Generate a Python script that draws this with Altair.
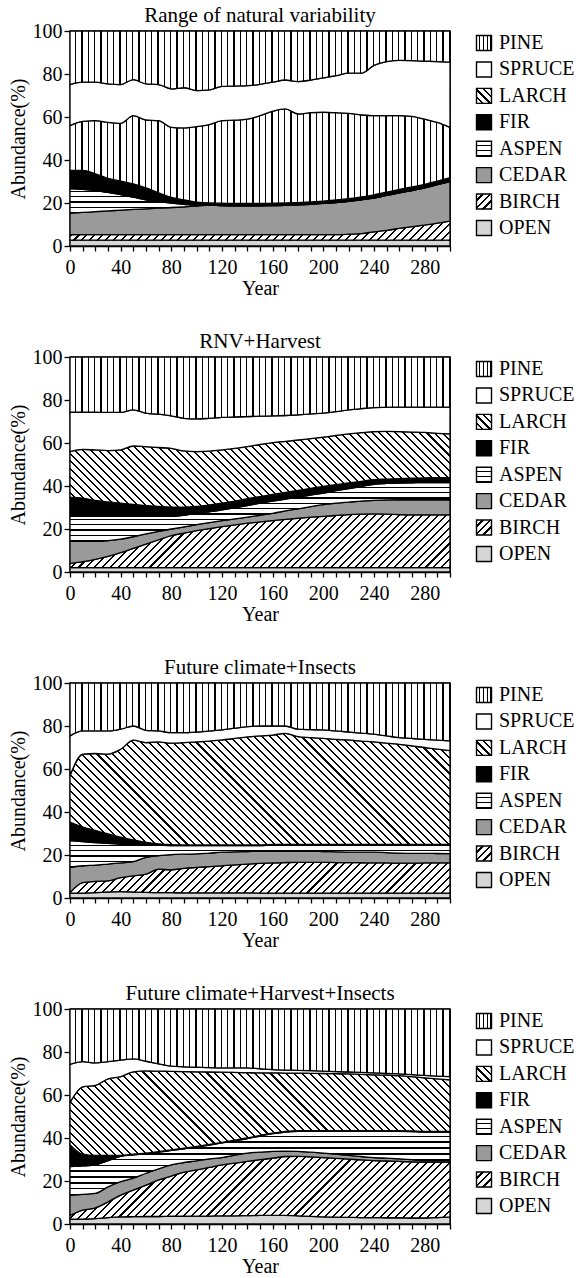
import altair as alt
import pandas as pd

# ---------------- data (upper edge of each stacked band, % abundance) ----------------
years = list(range(0, 301, 10))
species_bottom_up = ["OPEN", "BIRCH", "CEDAR", "ASPEN", "FIR", "LARCH", "SPRUCE", "PINE"]
legend_order = ["PINE", "SPRUCE", "LARCH", "FIR", "ASPEN", "CEDAR", "BIRCH", "OPEN"]
panel_titles = ["Range of natural variability", "RNV+Harvest",
                "Future climate+Insects", "Future climate+Harvest+Insects"]

# Panel 1: Range of natural variability
p1_open = [2.7, 2.7, 2.7, 2.7, 2.7, 2.7, 2.7, 2.7, 2.7, 2.7, 2.7, 2.7, 2.7, 2.7, 2.7, 2.7,
           2.7, 2.7, 2.7, 2.7, 2.7, 2.7, 2.7, 2.7, 2.7, 2.7, 2.7, 2.7, 2.7, 2.7, 2.7]
p1_birch = [5.3, 5.3, 5.3, 5.3, 5.3, 5.3, 5.3, 5.3, 5.3, 5.3, 5.3, 5.3, 5.3, 5.3, 5.3, 5.3,
            5.3, 5.3, 5.3, 5.3, 5.3, 5.3, 5.5, 5.8, 6.6, 7.3, 8.2, 9.0, 9.7, 10.6, 11.6]
p1_cedar = [15.3, 15.6, 16.0, 16.3, 16.7, 17.0, 17.3, 17.6, 17.9, 18.2, 18.6, 19.0, 18.8, 18.7,
            18.7, 18.7, 18.8, 18.9, 19.1, 19.4, 19.8, 20.2, 20.8, 21.5, 22.3, 23.5, 24.7, 25.8,
            27.0, 28.5, 29.9]
p1_aspen = [26.7, 26.3, 25.8, 24.9, 23.9, 22.7, 21.5, 20.7, 20.0, 19.4, 18.9, 19.0, 18.8, 18.7,
            18.7, 18.7, 18.8, 18.9, 19.1, 19.4, 19.8, 20.2, 20.8, 21.5, 22.3, 23.5, 24.7, 25.8,
            27.0, 28.5, 29.9]
p1_fir = [35.2, 35.2, 33.6, 31.4, 30.2, 28.9, 27.0, 24.7, 22.6, 21.5, 20.4, 20.0, 19.9, 19.8,
          19.8, 19.8, 19.9, 20.0, 20.2, 20.5, 20.9, 21.4, 22.0, 22.8, 23.8, 25.0, 26.3, 27.5,
          28.7, 30.2, 31.8]
p1_larch = [56.0, 58.0, 58.3, 57.5, 57.0, 60.6, 58.6, 58.3, 55.2, 54.9, 55.5, 56.5, 58.3, 58.5,
            59.0, 60.6, 62.7, 63.8, 61.4, 62.0, 62.2, 62.0, 61.7, 61.0, 60.6, 60.6, 60.6, 60.3,
            59.0, 57.5, 55.2]
p1_spruce = [75.1, 76.2, 76.2, 75.4, 75.1, 77.4, 75.4, 75.1, 73.1, 73.6, 72.3, 72.6, 74.2, 74.4,
             74.6, 75.2, 76.2, 77.2, 76.5, 77.2, 78.2, 79.2, 80.4, 80.4, 84.0, 85.8, 86.3, 86.2,
             86.0, 85.8, 85.5]

# Panel 2: RNV+Harvest
p2_open = [2.0, 2.0, 2.0, 2.0, 2.0, 2.0, 2.0, 2.0, 2.0, 2.0, 2.0, 2.0, 2.0, 2.0, 2.0, 2.0,
           2.0, 2.0, 2.0, 2.0, 2.0, 2.0, 2.0, 2.0, 2.0, 2.0, 2.0, 2.0, 2.0, 2.0, 2.0]
p2_birch = [3.9, 4.8, 5.9, 7.3, 9.0, 11.0, 13.0, 15.0, 16.9, 18.1, 19.2, 20.2, 21.1, 21.9, 22.7,
            23.3, 23.9, 24.5, 25.0, 25.5, 25.9, 26.3, 26.7, 26.9, 27.0, 26.9, 26.7, 26.6, 26.6,
            26.6, 26.6]
p2_cedar = [14.2, 14.2, 14.2, 14.6, 15.3, 16.4, 17.7, 18.9, 20.0, 21.0, 22.0, 23.0, 23.9, 24.7,
            25.5, 26.4, 27.3, 28.4, 29.4, 30.4, 31.3, 32.0, 32.5, 33.0, 33.3, 33.5, 33.6, 33.6,
            33.6, 33.6, 33.6]
p2_aspen = [25.9, 25.9, 25.9, 25.9, 25.9, 25.9, 25.9, 25.9, 25.9, 26.4, 27.3, 28.0, 28.9, 29.9,
            30.9, 32.0, 33.0, 33.9, 34.8, 35.8, 36.7, 37.8, 38.8, 39.8, 40.8, 41.2, 41.4, 41.5,
            41.6, 41.6, 41.6]
p2_fir = [34.8, 34.4, 33.3, 32.6, 32.0, 31.4, 30.9, 30.5, 30.2, 30.2, 30.5, 31.2, 32.0, 33.0,
          34.1, 35.1, 36.1, 37.0, 38.0, 38.9, 39.8, 40.6, 41.4, 42.2, 43.0, 43.2, 43.4, 43.6,
          43.8, 43.9, 43.9]
p2_larch = [56.0, 57.0, 56.8, 56.5, 56.8, 58.6, 58.3, 57.9, 57.5, 56.3, 56.0, 56.2, 56.8, 57.5,
            58.3, 59.3, 60.2, 60.8, 61.4, 62.0, 62.7, 63.5, 64.2, 64.8, 65.3, 65.4, 65.3, 65.1,
            64.9, 64.5, 64.2]
p2_spruce = [74.3, 74.3, 74.3, 74.2, 74.2, 75.4, 73.9, 73.4, 72.6, 71.5, 71.2, 71.5, 71.9, 72.1,
             72.3, 72.5, 72.6, 72.8, 73.1, 73.5, 73.9, 74.6, 75.4, 76.0, 76.5, 76.6, 76.7, 76.7,
             76.7, 76.7, 76.7]

# Panel 3: Future climate+Insects
p3_open = [2.2, 2.3, 2.5, 2.8, 3.0, 2.8, 2.6, 2.5, 2.5, 2.4, 2.4, 2.4, 2.4, 2.4, 2.4, 2.3,
           2.3, 2.3, 2.3, 2.3, 2.3, 2.3, 2.3, 2.3, 2.3, 2.3, 2.3, 2.3, 2.3, 2.3, 2.3]
p3_birch = [2.5, 7.2, 7.7, 8.0, 9.5, 10.3, 11.1, 13.4, 13.1, 13.8, 14.2, 14.6, 15.0, 15.4, 15.8,
            16.1, 16.3, 16.5, 16.6, 16.6, 16.6, 16.5, 16.5, 16.4, 16.3, 16.3, 16.2, 16.2, 16.3,
            16.3, 16.3]
p3_cedar = [14.3, 15.0, 15.3, 15.8, 16.3, 16.9, 18.9, 19.7, 20.2, 20.4, 20.5, 20.9, 21.3, 21.5,
            21.6, 21.7, 21.7, 21.7, 21.7, 21.7, 21.6, 21.5, 21.3, 21.3, 21.3, 21.1, 20.9, 20.8,
            20.8, 20.7, 20.6]
p3_aspen = [26.7, 26.2, 25.8, 25.4, 25.0, 24.8, 24.6, 24.5, 24.4, 24.4, 24.4, 24.4, 24.4, 24.4,
            24.4, 24.4, 24.6, 24.6, 24.6, 24.6, 24.6, 24.6, 24.6, 24.6, 24.6, 24.6, 24.6, 24.6,
            24.6, 24.6, 24.6]
p3_fir = [35.3, 33.0, 31.4, 29.8, 28.3, 27.0, 25.9, 25.2, 24.8, 24.7, 24.7, 24.7, 24.7, 24.7,
          24.7, 24.7, 24.9, 24.9, 24.9, 24.9, 24.9, 24.9, 24.9, 24.9, 24.9, 24.9, 24.9, 24.9,
          24.9, 24.9, 24.9]
p3_larch = [56.9, 66.9, 67.2, 66.9, 69.2, 73.4, 72.3, 72.6, 72.0, 72.3, 72.6, 73.0, 73.5, 74.2,
            74.9, 75.4, 75.8, 76.6, 75.1, 74.6, 74.2, 73.8, 73.5, 73.0, 72.6, 72.0, 71.5, 70.8,
            70.0, 69.2, 68.5]
p3_spruce = [75.4, 77.7, 77.7, 77.7, 78.5, 80.0, 78.0, 77.7, 76.9, 76.9, 77.2, 77.7, 78.2, 79.0,
             79.7, 80.0, 80.0, 80.0, 78.5, 78.3, 78.2, 77.7, 77.2, 76.7, 76.2, 75.4, 74.6, 74.2,
             73.8, 73.4, 73.1]

# Panel 4: Future climate+Harvest+Insects
p4_open = [2.2, 2.3, 2.5, 3.0, 3.3, 3.4, 3.5, 3.5, 3.6, 3.6, 3.7, 3.7, 3.8, 3.8, 3.9, 4.0,
           4.0, 4.0, 3.8, 3.5, 3.3, 3.2, 3.1, 3.0, 3.0, 2.9, 2.9, 2.8, 2.8, 3.0, 3.3]
p4_birch = [4.0, 6.4, 7.5, 10.3, 13.4, 15.8, 18.1, 20.5, 22.3, 24.1, 25.2, 26.3, 27.5, 28.3, 29.1,
            29.9, 30.6, 31.4, 31.5, 31.2, 30.9, 30.5, 30.2, 29.8, 29.5, 29.3, 29.1, 28.9, 28.8,
            28.8, 28.8]
p4_cedar = [13.4, 13.8, 14.2, 17.3, 19.7, 21.3, 23.6, 25.6, 27.5, 28.6, 29.4, 30.3, 30.9, 32.0,
            33.0, 33.4, 33.8, 33.9, 33.8, 33.4, 33.0, 32.5, 31.9, 31.4, 30.9, 30.6, 30.3, 29.9,
            29.5, 29.5, 29.5]
p4_aspen = [26.7, 27.0, 27.5, 29.5, 31.5, 32.2, 32.7, 33.4, 34.2, 35.0, 35.8, 36.7, 37.7, 38.7,
            39.7, 40.9, 42.0, 42.8, 43.1, 43.1, 43.1, 43.1, 43.1, 43.1, 43.1, 43.1, 43.1, 43.0,
            42.8, 42.8, 42.8]
p4_fir = [36.9, 32.5, 31.9, 31.9, 31.9, 32.5, 33.0, 33.7, 34.5, 35.3, 36.1, 37.0, 38.0, 39.0,
          40.0, 41.2, 42.3, 43.1, 43.4, 43.4, 43.4, 43.4, 43.4, 43.4, 43.4, 43.4, 43.4, 43.3,
          43.1, 43.1, 43.1]
p4_larch = [56.5, 63.8, 64.5, 67.5, 68.5, 70.8, 71.2, 71.1, 71.0, 70.9, 70.8, 70.7, 70.6, 70.5,
            70.4, 70.3, 70.3, 70.2, 70.2, 70.1, 70.0, 69.9, 69.8, 69.6, 69.4, 69.2, 69.0, 68.5,
            68.0, 67.5, 67.0]
p4_spruce = [74.2, 75.5, 74.9, 75.5, 76.2, 76.8, 75.7, 74.5, 73.4, 73.1, 72.9, 72.7, 72.6, 72.6,
             72.6, 72.2, 71.8, 71.6, 71.5, 71.3, 71.1, 70.9, 70.7, 70.5, 70.3, 70.0, 69.8, 69.5,
             69.1, 68.8, 68.5]

panel_tops = [
    [p1_open, p1_birch, p1_cedar, p1_aspen, p1_fir, p1_larch, p1_spruce],
    [p2_open, p2_birch, p2_cedar, p2_aspen, p2_fir, p2_larch, p2_spruce],
    [p3_open, p3_birch, p3_cedar, p3_aspen, p3_fir, p3_larch, p3_spruce],
    [p4_open, p4_birch, p4_cedar, p4_aspen, p4_fir, p4_larch, p4_spruce],
]

rows = []
for p, tops in enumerate(panel_tops):
    for i, sp in enumerate(species_bottom_up):
        for j, yr in enumerate(years):
            lo = 0.0 if i == 0 else tops[i - 1][j]
            hi = 100.0 if i == len(species_bottom_up) - 1 else tops[i][j]
            rows.append({"panel": p, "species": sp, "year": yr, "lo": lo, "hi": max(hi, lo)})
df = pd.DataFrame(rows)

# ---------------- styling ----------------
W, H = 380, 215
FONT = "Liberation Serif"
solid = {"SPRUCE": "white", "FIR": "black", "CEDAR": "#9a9a9a", "OPEN": "#d6d6d6"}
pattern_kind = {"PINE": "vert", "LARCH": "back", "ASPEN": "horiz", "BIRCH": "fwd"}


def stripe_stops(n, frac):
    stops = []
    for k in range(n):
        a = round(k / n, 5)
        b = round((k + 1 - frac) / n, 5)
        c = round((k + 1) / n, 5)
        stops += [{"offset": a, "color": "white"}, {"offset": b, "color": "white"},
                  {"offset": b, "color": "black"}, {"offset": c, "color": "black"}]
    return stops


def hatch(kind, w, h, spacing=5.5, frac=0.24, n=None):
    if kind == "vert":
        n = n or max(1, round(w / spacing))
        return {"gradient": "linear", "x1": 0, "y1": 0, "x2": 1, "y2": 0,
                "stops": stripe_stops(n, frac)}
    if kind == "horiz":
        n = n or max(1, round(h / spacing))
        return {"gradient": "linear", "x1": 0, "y1": 0, "x2": 0, "y2": 1,
                "stops": stripe_stops(n, frac)}
    n = n or max(1, round((w + h) / 2 ** 0.5 / spacing))
    k = (w + h) / (w * w + h * h)
    if kind == "back":   # "\" lines
        return {"gradient": "linear", "x1": 0, "y1": 1, "x2": round(w * k, 5),
                "y2": round(1 - h * k, 5), "stops": stripe_stops(n, frac)}
    return {"gradient": "linear", "x1": 0, "y1": 0, "x2": round(w * k, 5),
            "y2": round(h * k, 5), "stops": stripe_stops(n, frac)}


x_axis = alt.Axis(values=years, title="Year", tickSize=5, labelPadding=6, titlePadding=1,
                  labelExpr="datum.value % 40 === 0 ? datum.label : ''",
                  labelOverlap=False, labelFlush=False, grid=False)
y_axis = alt.Axis(values=[0, 20, 40, 60, 80, 100], title="Abundance(%)", tickSize=6,
                  labelPadding=2, titlePadding=4, labelFlush=False, grid=False)


def panel_chart(p):
    layers = []
    for sp in species_bottom_up:
        sub = df[(df.panel == p) & (df.species == sp)]
        h = (sub.hi.max() - sub.lo.min()) / 100.0 * H
        kind = "vert" if (sp == "LARCH" and p == 0) else pattern_kind.get(sp)
        if kind == "vert":
            fill = hatch(kind, W, h, spacing=6.3, frac=0.22)
        elif kind:
            fill = hatch(kind, W, h, spacing=5.6, frac=0.26)
        else:
            fill = solid[sp]
        layers.append(
            alt.Chart(df)
            .transform_filter(f"datum.panel == {p} && datum.species == '{sp}'")
            .mark_area(fill=fill, stroke="black", strokeWidth=1.3, interpolate="monotone",
                       opacity=1, strokeJoin="round")
            .encode(
                x=alt.X("year:Q", scale=alt.Scale(domain=[0, 300], nice=False), axis=x_axis),
                y=alt.Y("lo:Q", scale=alt.Scale(domain=[0, 100], nice=False), axis=y_axis),
                y2="hi:Q",
            )
        )
    return alt.layer(*layers).properties(
        width=W, height=H,
        title=alt.TitleParams(panel_titles[p], anchor="middle", frame="group", offset=-5),
        view=alt.ViewBackground(stroke="black", strokeWidth=1.3),
    )


leg_df = pd.DataFrame({"species": legend_order})
leg_y = alt.Y("species:N", sort=legend_order, axis=None,
              scale=alt.Scale(type="point", range=[12, 197], padding=0))


def legend_chart():
    layers = []
    for sp in legend_order:
        kind = pattern_kind.get(sp)
        if kind == "vert":
            fill = hatch(kind, 15, 15, n=4, frac=0.3)
        elif kind == "horiz":
            fill = hatch(kind, 15, 15, n=3, frac=0.3)
        elif kind:
            fill = hatch(kind, 15, 15, n=4, frac=0.32)
        else:
            fill = solid[sp]
        layers.append(
            alt.Chart(leg_df)
            .transform_filter(f"datum.species == '{sp}'")
            .mark_square(size=225, fill=fill, stroke="black", strokeWidth=1.4, opacity=1)
            .encode(x=alt.value(32), y=leg_y)
        )
    text = (
        alt.Chart(leg_df)
        .mark_text(align="left", baseline="middle", font=FONT, fontSize=20, color="black")
        .encode(x=alt.value(47), y=leg_y, text="species:N")
    )
    return alt.layer(*layers, text).properties(
        width=125, height=H, view=alt.ViewBackground(strokeOpacity=0)
    )


rows_charts = [alt.hconcat(panel_chart(p), legend_chart(), spacing=0) for p in range(4)]

chart = (
    alt.vconcat(*rows_charts, spacing=31)
    .properties(padding={"left": 7, "top": 4, "right": 0, "bottom": 0})
    .configure_axis(labelFont=FONT, titleFont=FONT, labelFontSize=20, titleFontSize=20,
                    titleFontWeight="normal", labelColor="black", titleColor="black",
                    domainColor="black", tickColor="black", domainWidth=1.3, tickWidth=1.3)
    .configure_title(font=FONT, fontSize=21, fontWeight="normal", color="black")
)

chart.save("out.html", embed_options={"renderer": "svg", "actions": False})
